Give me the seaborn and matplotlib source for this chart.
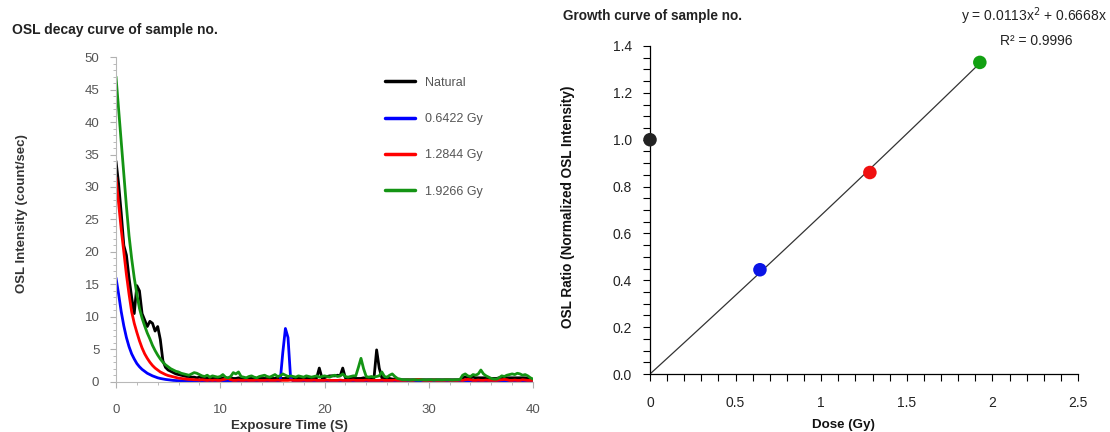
import numpy as np
import pandas as pd
import matplotlib
matplotlib.use("Agg")
import matplotlib.pyplot as plt
from matplotlib.ticker import MultipleLocator
import seaborn as sns

sns.set_theme(style="white")
plt.rcParams["font.family"] = ["Liberation Sans", "DejaVu Sans"]

# ---------------- OSL decay curves (sampled every 0.25 s) ----------------
time_s = np.arange(0, 40.001, 0.25)

natural = [
    34, 30.5, 26, 21, 19.5, 16, 13, 10.5, 14.8, 14.0, 10.5, 9.5, 8.5, 9.3, 9.0, 7.8, 8.5, 6.5, 3.2, 2.2,
    1.8, 1.6, 1.4, 1.2, 1.1, 1.0, 0.9, 0.8, 0.8, 0.7, 0.7, 0.6, 0.7, 0.6, 0.6, 0.5, 0.6, 0.5, 0.6, 0.5,
    0.5, 0.6, 0.5, 0.5, 0.6, 0.5, 0.5, 0.6, 0.5, 0.5, 0.5, 0.6, 0.5, 0.5, 0.5, 0.6, 0.5, 0.5, 0.5, 0.5,
    0.5, 0.5, 0.6, 0.5, 0.5, 0.5, 0.6, 0.5, 0.5, 0.5, 0.6, 0.5, 0.5, 0.5, 0.6, 0.5, 0.5, 0.6, 2.1, 0.6,
    0.6, 0.8, 0.9, 0.9, 0.9, 1.0, 0.9, 2.1, 0.6, 0.5, 0.5, 0.6, 0.5, 0.5, 0.5, 0.6, 0.5, 0.5, 0.5, 0.6,
    4.9, 2.1, 0.6, 0.5, 0.5, 0.5, 0.4, 0.4, 0.3, 0.3, 0.3, 0.3, 0.3, 0.3, 0.3, 0.3, 0.3, 0.3, 0.3, 0.3,
    0.3, 0.3, 0.3, 0.3, 0.3, 0.3, 0.3, 0.3, 0.3, 0.3, 0.3, 0.3, 0.3, 0.6, 0.7, 0.6, 0.6, 0.7, 0.6, 0.6,
    0.6, 0.6, 0.6, 0.5, 0.5, 0.5, 0.5, 0.6, 0.6, 0.6, 0.6, 0.6, 0.6, 0.6, 0.6, 0.6, 0.6, 0.6, 0.5, 0.4,
    0.3,
]

dose_0642 = [
    16, 13.5, 10.8, 8.6, 6.8, 5.4, 4.3, 3.5, 2.8, 2.3, 1.9, 1.6, 1.3, 1.1, 0.9, 0.75, 0.6, 0.5, 0.42, 0.35,
    0.3, 0.25, 0.2, 0.18, 0.15, 0.12, 0.1, 0.1, 0.1, 0.1, 0.1, 0.1, 0.1, 0.1, 0.1, 0.1, 0.1, 0.1, 0.1, 0.1,
    0.1, 0.1, 0.1, 0.1, 0.1, 0.1, 0.1, 0.1, 0.1, 0.1, 0.1, 0.1, 0.1, 0.1, 0.1, 0.1, 0.1, 0.1, 0.1, 0.1,
    0.1, 0.1, 0.1, 0.1, 4.5, 8.2, 6.8, 0.5, 0.1, 0.1, 0.1, 0.1, 0.1, 0.1, 0.1, 0.1, 0.1, 0.1, 0.1, 0.1,
    0.1, 0.1, 0.1, 0.1, 0.1, 0.1, 0.1, 0.1, 0.1, 0.1, 0.1, 0.1, 0.1, 0.1, 0.1, 0.1, 0.1, 0.1, 0.1, 0.1,
    0.1, 0.1, 0.1, 0.1, 0.1, 0.1, 0.1, 0.1, 0.1, 0.1, 0.1, 0.1, 0.1, 0.1, 0.1, 0.1, 0.1, 0.1, 0.1, 0.1,
    0.1, 0.1, 0.1, 0.1, 0.1, 0.1, 0.1, 0.1, 0.1, 0.1, 0.1, 0.1, 0.1, 0.1, 0.1, 0.1, 0.1, 0.1, 0.1, 0.1,
    0.1, 0.1, 0.1, 0.1, 0.1, 0.1, 0.1, 0.1, 0.1, 0.1, 0.1, 0.1, 0.1, 0.1, 0.1, 0.1, 0.1, 0.1, 0.1, 0.1,
    0.1,
]

dose_1284 = [
    31.5, 27.5, 23.5, 20, 16.5, 13.5, 10.8, 9.0, 7.6, 6.3, 5.2, 4.3, 3.6, 3.0, 2.5, 2.1, 1.8, 1.5, 1.3, 1.1,
    0.95, 0.85, 0.75, 0.65, 0.55, 0.5, 0.45, 0.4, 0.35, 0.35, 0.3, 0.3, 0.25, 0.3, 0.25, 0.2, 0.25, 0.2, 0.25, 0.2,
    0.2, 0.3, 0.4, 0.5, 0.3, 0.2, 0.2, 0.25, 0.2, 0.2, 0.25, 0.2, 0.2, 0.2, 0.25, 0.2, 0.2, 0.2, 0.25, 0.2,
    0.2, 0.2, 0.25, 0.2, 0.2, 0.2, 0.2, 0.25, 0.2, 0.2, 0.2, 0.2, 0.25, 0.2, 0.2, 0.2, 0.25, 0.2, 0.2, 0.2,
    0.2, 0.25, 0.2, 0.2, 0.2, 0.2, 0.25, 0.2, 0.2, 0.2, 0.2, 0.25, 0.2, 0.2, 0.2, 0.2, 0.25, 0.2, 0.2, 0.2,
    0.2, 0.2, 0.25, 0.2, 0.2, 0.2, 0.2, 0.25, 0.2, 0.2, 0.2, 0.2, 0.25, 0.2, 0.2, 0.3, 0.35, 0.3, 0.2, 0.2,
    0.2, 0.2, 0.25, 0.2, 0.2, 0.2, 0.2, 0.25, 0.2, 0.2, 0.2, 0.2, 0.25, 0.2, 0.3, 0.35, 0.3, 0.2, 0.2, 0.25,
    0.2, 0.2, 0.25, 0.2, 0.2, 0.2, 0.2, 0.25, 0.3, 0.35, 0.3, 0.2, 0.2, 0.25, 0.2, 0.2, 0.3, 0.25, 0.2, 0.2,
    0.2,
]

dose_1927 = [
    47, 42, 37, 32, 27, 22.5, 19, 16, 13.5, 11.3, 9.8, 8.6, 7.5, 6.6, 5.6, 4.8, 4.1, 3.5, 3.0, 2.6,
    2.3, 2.0, 1.8, 1.6, 1.5, 1.3, 1.2, 1.1, 1.0, 1.2, 1.4, 1.3, 1.1, 0.9, 0.8, 1.0, 0.7, 0.9, 0.8, 0.7,
    0.8, 1.1, 0.7, 0.6, 0.8, 1.4, 1.2, 1.5, 0.8, 0.7, 0.6, 0.8, 0.9, 0.7, 0.6, 0.8, 0.9, 1.0, 0.8, 0.7,
    0.9, 1.1, 0.8, 0.9, 1.2, 1.0, 0.8, 0.9, 0.8, 0.7, 0.9, 0.8, 0.7, 0.9, 0.8, 0.7, 0.8, 0.9, 0.7, 0.8,
    0.9, 0.8, 0.7, 0.9, 1.0, 0.8, 0.9, 1.2, 0.8, 0.7, 0.8, 0.9, 0.9, 2.2, 3.6, 2.0, 0.8, 0.7, 0.8, 0.7,
    0.8, 0.9, 1.5, 0.8, 0.7, 1.0, 1.2, 0.8, 0.5, 0.4, 0.3, 0.3, 0.3, 0.25, 0.3, 0.3, 0.25, 0.3, 0.3, 0.25,
    0.3, 0.3, 0.25, 0.3, 0.3, 0.25, 0.3, 0.3, 0.3, 0.25, 0.3, 0.3, 0.35, 1.0, 1.2, 0.9, 0.8, 1.1, 1.0, 1.2,
    1.8, 1.2, 0.9, 0.7, 0.5, 0.4, 0.4, 0.6, 0.9, 0.8, 1.0, 1.1, 1.2, 1.1, 1.3, 1.2, 1.0, 1.1, 0.9, 0.6,
    0.4,
]

series_labels = ["Natural", "0.6422 Gy", "1.2844 Gy", "1.9266 Gy"]
series_colors = ["#000000", "#0000ff", "#ff0000", "#149414"]

# ---------------- Growth curve ----------------
dose_gy = [0.0, 0.6422, 1.2844, 1.9266]
osl_ratio = [1.0, 0.445, 0.86, 1.33]
point_colors = ["#222222", "#0a14e6", "#f01010", "#12a012"]
fit_a, fit_b = 0.0113, 0.6668   # y = a*x^2 + b*x
fit_r2 = 0.9996

decay = pd.DataFrame({
    "time": np.tile(time_s, 4),
    "intensity": np.concatenate([natural, dose_0642, dose_1284, dose_1927]),
    "series": np.repeat(series_labels, len(time_s)),
})

fig = plt.figure(figsize=(11.10, 4.32), dpi=100)
ax1 = fig.add_axes([116 / 1110, 1 - 381.7 / 432, 417 / 1110, 324.5 / 432])
ax2 = fig.add_axes([650 / 1110, 1 - 374 / 432, 428 / 1110, 328 / 432])

# ---- left panel: decay curves ----
sns.lineplot(data=decay, x="time", y="intensity", hue="series",
             hue_order=series_labels, palette=series_colors,
             linewidth=2.0, ax=ax1, legend=True)
ax1.set_xlim(0, 40)
ax1.set_ylim(0, 50)
ax1.xaxis.set_major_locator(MultipleLocator(10))
ax1.xaxis.set_minor_locator(MultipleLocator(2))
ax1.yaxis.set_major_locator(MultipleLocator(5))
ax1.yaxis.set_minor_locator(MultipleLocator(1))
for side in ("top", "right"):
    ax1.spines[side].set_visible(False)
for side in ("left", "bottom"):
    ax1.spines[side].set_color("#b8b8b8")
    ax1.spines[side].set_linewidth(0.8)
ax1.tick_params(axis="both", which="both", direction="out", color="#b0b0b0",
                labelcolor="#555555", labelsize=9.5, bottom=True, left=True)
ax1.tick_params(axis="both", which="major", length=4, width=0.8)
ax1.tick_params(axis="both", which="minor", length=2.5, width=0.6)
ax1.tick_params(axis="x", which="major", pad=12)
ax1.tick_params(axis="y", which="major", pad=8)
ax1.set_xlabel("Exposure Time (S)", fontsize=9.6, fontweight="bold", color="#333333")
ax1.set_ylabel("OSL Intensity (count/sec)", fontsize=9.5, fontweight="bold", color="#333333")
ax1.xaxis.set_label_coords(0.417, -0.118)
ax1.yaxis.set_label_coords(-0.212, 0.517)
ax1.legend(title=None, loc="upper left", bbox_to_anchor=(0.645, 0.94),
           frameon=False, fontsize=9, labelcolor="#555555",
           handlelength=2.4, handletextpad=0.8, labelspacing=1.95,
           borderpad=0, borderaxespad=0)
for line in ax1.get_legend().get_lines():
    line.set_linewidth(2.5)
fig.text(12 / 1110, 1 - 30 / 432, "OSL decay curve of sample no.", fontsize=10,
         fontweight="bold", color="#222222", va="center", ha="left")

# ---- right panel: growth curve ----
fit_x = np.linspace(0, dose_gy[-1], 100)
fit_y = fit_a * fit_x ** 2 + fit_b * fit_x
sns.lineplot(x=fit_x, y=fit_y, color="#333333", linewidth=0.9, ax=ax2)
sns.scatterplot(x=dose_gy, y=osl_ratio, hue=series_labels, palette=point_colors,
                s=95, edgecolor="none", legend=False, ax=ax2, clip_on=False, zorder=5)
ax2.set_xlim(0, 2.5)
ax2.set_ylim(0, 1.4)
ax2.xaxis.set_major_locator(MultipleLocator(0.5))
ax2.xaxis.set_minor_locator(MultipleLocator(0.1))
ax2.yaxis.set_major_locator(MultipleLocator(0.2))
ax2.yaxis.set_minor_locator(MultipleLocator(0.05))
ax2.xaxis.set_major_formatter(plt.FuncFormatter(lambda v, p: f"{v:g}"))
ax2.yaxis.set_major_formatter(plt.FuncFormatter(lambda v, p: f"{v:.1f}"))
for side in ("top", "right"):
    ax2.spines[side].set_visible(False)
for side in ("left", "bottom"):
    ax2.spines[side].set_color("#000000")
    ax2.spines[side].set_linewidth(0.9)
ax2.tick_params(axis="both", which="both", direction="out", color="#000000",
                length=5, width=0.8, labelsize=10, labelcolor="#222222",
                bottom=True, left=True)
ax2.tick_params(axis="x", which="major", pad=11)
ax2.tick_params(axis="y", which="major", pad=8)
ax2.set_xlabel("Dose (Gy)", fontsize=9.6, fontweight="bold", color="#111111")
ax2.set_ylabel("OSL Ratio (Normalized OSL Intensity)", fontsize=9.8,
               fontweight="bold", color="#111111")
ax2.xaxis.set_label_coords(0.453, -0.136)
ax2.yaxis.set_label_coords(-0.176, 0.51)
fig.text(563 / 1110, 1 - 16 / 432, "Growth curve of sample no.", fontsize=9.8,
         fontweight="bold", color="#222222", va="center", ha="left")
fig.text(1107 / 1110, 1 - 16 / 432,
         f"y = {fit_a:.4f}x$^{{2}}$ + {fit_b:.4f}x", fontsize=10,
         color="#222222", va="center", ha="right")
fig.text(1073 / 1110, 1 - 41 / 432, f"R\u00b2 = {fit_r2:.4f}", fontsize=10,
         color="#222222", va="center", ha="right")

fig.savefig("out.png", dpi=100, facecolor="white")
